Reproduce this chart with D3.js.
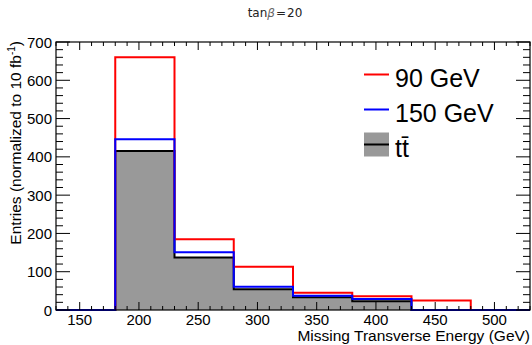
<!DOCTYPE html>
<html>
<head>
<meta charset="utf-8">
<script src="https://cdn.jsdelivr.net/npm/d3@7"></script>
<style>
  body { margin: 0; background: #fff; }
  svg { display: block; font-family: "Liberation Sans", Arial, sans-serif; }
</style>
</head>
<body>
<div id="chart"></div>
<script>
// Missing transverse energy histograms, tan(beta) = 20

// Data
const binEdges = [130, 180, 230, 280, 330, 380, 430, 480, 530];
const h90  = [0, 660, 185, 113, 45, 36, 25, 0];
const h150 = [0, 446, 151, 61, 37, 29, 0, 0];
const hTT  = [0, 415, 137, 54, 33, 23, 0, 0];
const xTicks = [150, 200, 250, 300, 350, 400, 450, 500];
const yTicks = [0, 100, 200, 300, 400, 500, 600, 700];

const legendItems = [
  { label: "90 GeV", color: "#ff0000", fill: null },
  { label: "150 GeV", color: "#0000ff", fill: null },
  { label: "tt\u0304", color: "#000000", fill: "#999999" }
];

// Layout
const width = 532, height = 345,
      marginTop = 42, marginRight = 2, marginBottom = 35, marginLeft = 56;

const x = d3.scaleLinear()
    .domain([130, 530])
    .range([marginLeft, width - marginRight]);

const y = d3.scaleLinear()
    .domain([0, 700])
    .range([height - marginBottom, marginTop]);

const svg = d3.select("#chart")
  .append("svg")
    .attr("width", width)
    .attr("height", height);

// step path from bin contents
function steps(vals) {
  const pts = [[binEdges[0], 0]];
  vals.forEach((v, i) => {
    pts.push([binEdges[i], v]);
    pts.push([binEdges[i + 1], v]);
  });
  pts.push([binEdges[binEdges.length - 1], 0]);
  return d3.line().x(d => x(d[0])).y(d => y(d[1]))(pts);
}

// ttbar filled histogram
svg.append("path")
    .attr("d", steps(hTT))
    .attr("fill", "#999999")
    .attr("stroke", "#000")
    .attr("stroke-width", 2);

svg.append("path")
    .attr("d", steps(h90))
    .attr("fill", "none")
    .attr("stroke", "#ff0000")
    .attr("stroke-width", 2);

svg.append("path")
    .attr("d", steps(h150))
    .attr("fill", "none")
    .attr("stroke", "#0000ff")
    .attr("stroke-width", 2);

// Frame
svg.append("rect")
    .attr("x", marginLeft)
    .attr("y", marginTop)
    .attr("width", width - marginLeft - marginRight)
    .attr("height", height - marginTop - marginBottom)
    .attr("fill", "none")
    .attr("stroke", "#000")
    .attr("stroke-width", 1.2);

// Ticks
const xMinor = d3.range(130, 531, 10).filter(d => d % 50 !== 0);
const yMinor = d3.range(0, 701, 20).filter(d => d % 100 !== 0);
const ticks = svg.append("g").attr("stroke", "#000").attr("stroke-width", 1);

const xAll = xTicks.map(v => ({ v, len: 8 })).concat(xMinor.map(v => ({ v, len: 4 })));
ticks.selectAll(".xb").data(xAll).join("line")
    .attr("x1", d => x(d.v)).attr("x2", d => x(d.v))
    .attr("y1", y(0)).attr("y2", d => y(0) - d.len);
ticks.selectAll(".xt").data(xAll).join("line")
    .attr("x1", d => x(d.v)).attr("x2", d => x(d.v))
    .attr("y1", y(700)).attr("y2", d => y(700) + d.len);

const yAll = yTicks.map(v => ({ v, len: 14 })).concat(yMinor.map(v => ({ v, len: 7 })));
ticks.selectAll(".yl").data(yAll).join("line")
    .attr("y1", d => y(d.v)).attr("y2", d => y(d.v))
    .attr("x1", x(130)).attr("x2", d => x(130) + d.len);
ticks.selectAll(".yr").data(yAll).join("line")
    .attr("y1", d => y(d.v)).attr("y2", d => y(d.v))
    .attr("x1", x(530)).attr("x2", d => x(530) - d.len);

// Tick labels
svg.append("g")
    .attr("font-size", 15)
    .attr("text-anchor", "middle")
  .selectAll("text")
  .data(xTicks)
  .join("text")
    .attr("x", d => x(d))
    .attr("y", height - marginBottom + 15)
    .text(d => d);

svg.append("g")
    .attr("font-size", 15)
    .attr("text-anchor", "end")
  .selectAll("text")
  .data(yTicks)
  .join("text")
    .attr("x", marginLeft - 4)
    .attr("y", d => y(d) + 5.5)
    .text(d => d);

// Axis titles
svg.append("text")
    .attr("x", width - 2)
    .attr("y", height - 4)
    .attr("text-anchor", "end")
    .attr("font-size", 15.5)
    .text("Missing Transverse Energy (GeV)");

const yt = svg.append("text")
    .attr("transform", `translate(21,${marginTop - 1}) rotate(-90)`)
    .attr("text-anchor", "end")
    .attr("font-size", 15.5);
yt.append("tspan").text("Entries (normalized to 10 fb");
yt.append("tspan").attr("font-size", 10).attr("dy", -6).text("-1");
yt.append("tspan").attr("dy", 6).text(")");

// Title
const title = svg.append("text")
    .attr("x", 275)
    .attr("y", 17)
    .attr("text-anchor", "middle")
    .attr("font-family", "DejaVu Sans, sans-serif")
    .attr("font-size", 12)
    .attr("fill", "#222");
title.append("tspan").text("tan");
title.append("tspan").attr("font-style", "italic").attr("fill", "#666").text("\u03b2");
title.append("tspan").attr("dx", 1).text("=");
title.append("tspan").attr("dx", 1).text("20");

// Legend
const leg = svg.append("g")
  .selectAll("g")
  .data(legendItems)
  .join("g")
    .attr("transform", (d, i) => `translate(364,${74.5 + i * 35})`);

leg.filter(d => d.fill)
  .append("rect")
    .attr("x", 0).attr("y", -12)
    .attr("width", 25).attr("height", 24)
    .attr("fill", d => d.fill);

leg.append("line")
    .attr("x1", 0).attr("x2", 25)
    .attr("stroke", d => d.color)
    .attr("stroke-width", 2);

leg.append("text")
    .attr("x", 31)
    .attr("y", 12.5)
    .attr("font-size", 25)
    .text(d => d.label);
</script>
</body>
</html>
